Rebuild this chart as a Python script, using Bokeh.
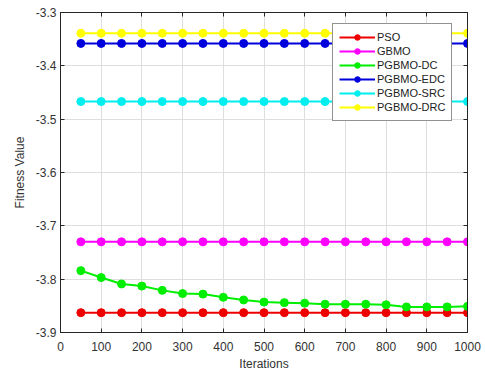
from bokeh.plotting import figure
from bokeh.models import FixedTicker, LinearAxis, Range1d, Legend
from bokeh.embed import file_html
from bokeh.resources import INLINE

iterations = [50, 100, 150, 200, 250, 300, 350, 400, 450, 500,
              550, 600, 650, 700, 750, 800, 850, 900, 950, 1000]
pso = [-3.8628] * 20
gbmo = [-3.7300] * 20
pgbmo_dc = [-3.784, -3.797, -3.809, -3.813, -3.821, -3.827, -3.828, -3.834, -3.839, -3.843,
            -3.844, -3.845, -3.847, -3.847, -3.847, -3.848, -3.852, -3.852, -3.852, -3.851]
pgbmo_edc = [-3.358] * 20
pgbmo_src = [-3.467] * 20
pgbmo_drc = [-3.339] * 20

series = [
    ("PSO", pso, "#ee0000"),
    ("GBMO", gbmo, "#ff00ff"),
    ("PGBMO-DC", pgbmo_dc, "#00ee00"),
    ("PGBMO-EDC", pgbmo_edc, "#0000dd"),
    ("PGBMO-SRC", pgbmo_src, "#00eeee"),
    ("PGBMO-DRC", pgbmo_drc, "#ffff00"),
]

x_ticks = [0, 100, 200, 300, 400, 500, 600, 700, 800, 900, 1000]
y_ticks = [-3.9, -3.8, -3.7, -3.6, -3.5, -3.4, -3.3]
y_tick_labels = {-3.9: "-3.9", -3.8: "-3.8", -3.7: "-3.7", -3.6: "-3.6",
                 -3.5: "-3.5", -3.4: "-3.4", -3.3: "-3.3"}

FONT = "Liberation Sans"
AX = "#262626"

p = figure(width=485, height=376, output_backend="svg", toolbar_location=None,
           x_range=Range1d(0, 1000), y_range=Range1d(-3.9, -3.3),
           min_border_left=60, min_border_right=18, min_border_top=12, min_border_bottom=44,
           x_axis_label="Iterations", y_axis_label="Fitness Value")
p.background_fill_color = "white"
p.border_fill_color = "white"
p.outline_line_color = AX
p.outline_line_width = 1

for ax in [p.xaxis[0], p.yaxis[0]]:
    ax.axis_line_color = AX
    ax.major_tick_line_color = AX
    ax.major_tick_in = 4
    ax.major_tick_out = 0
    ax.minor_tick_line_color = None
    ax.major_label_text_font = FONT
    ax.major_label_text_font_size = "12px"
    ax.major_label_text_color = "#333333"
    ax.axis_label_text_font = FONT
    ax.axis_label_text_font_size = "12px"
    ax.axis_label_text_font_style = "normal"
    ax.axis_label_text_color = "#333333"

p.xaxis[0].ticker = FixedTicker(ticks=x_ticks)
p.yaxis[0].ticker = FixedTicker(ticks=y_ticks)
p.yaxis[0].major_label_overrides = y_tick_labels
p.xaxis[0].major_label_standoff = 9
p.xaxis[0].axis_label_standoff = 3
p.yaxis[0].major_label_standoff = 4
p.yaxis[0].axis_label_standoff = 6

top = LinearAxis(ticker=FixedTicker(ticks=x_ticks),
                 major_label_overrides={t: "" for t in x_ticks},
                 major_label_standoff=0, major_tick_in=4, major_tick_out=0,
                 minor_tick_line_color=None, axis_line_color=AX, major_tick_line_color=AX)
right = LinearAxis(ticker=FixedTicker(ticks=y_ticks),
                   major_label_overrides={t: "" for t in y_ticks},
                   major_label_standoff=0, major_tick_in=4, major_tick_out=0,
                   minor_tick_line_color=None, axis_line_color=AX, major_tick_line_color=AX)
p.add_layout(top, "above")
p.add_layout(right, "right")

p.xgrid.ticker = FixedTicker(ticks=x_ticks)
p.ygrid.ticker = FixedTicker(ticks=y_ticks)
p.grid.grid_line_color = "#dedede"
p.grid.grid_line_width = 1

items = []
for name, vals, col in series:
    r1 = p.line(iterations, vals, line_color=col, line_width=2)
    r2 = p.scatter(iterations, vals, size=8, fill_color=col, line_color=col)
    items.append((name, [r1, r2]))

legend = Legend(items=items, location=(272, 211))
legend.label_text_font = FONT
legend.label_text_font_size = "11px"
legend.label_text_color = "#222222"
legend.glyph_width = 36
legend.glyph_height = 14
legend.label_height = 14
legend.label_standoff = 2
legend.spacing = 0
legend.padding = 6
legend.margin = 0
legend.border_line_color = AX
legend.border_line_width = 1
legend.background_fill_color = "white"
legend.background_fill_alpha = 1
p.add_layout(legend)

open("out.html", "w").write(file_html(p, INLINE))
